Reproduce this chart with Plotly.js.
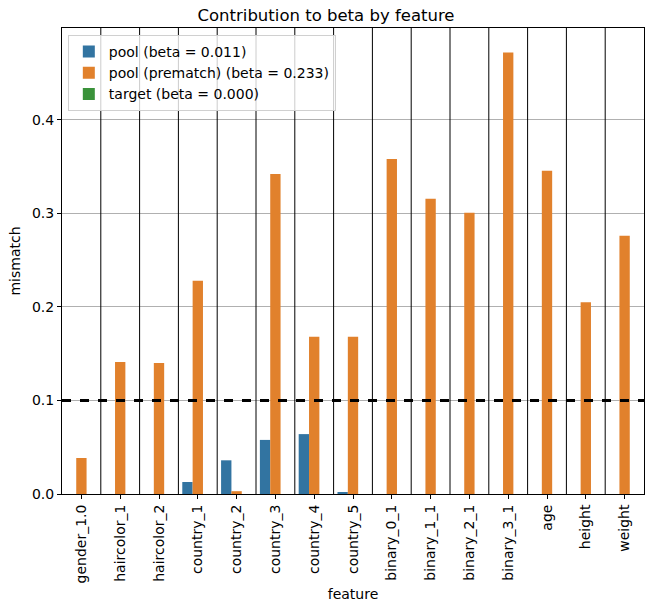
<!DOCTYPE html>
<html><head><meta charset="utf-8">
<script src="https://cdn.plot.ly/plotly-3.0.1.min.js"></script>
<style>body{margin:0}#c{width:652px;height:611px}</style>
</head><body><div id="c"></div>
<script>
const features = ["gender_1.0","haircolor_1","haircolor_2","country_1","country_2","country_3","country_4","country_5","binary_0_1","binary_1_1","binary_2_1","binary_3_1","age","height","weight"];
const poolVals = [0, 0, 0, 0.0128, 0.036, 0.0578, 0.064, 0.002, 0, 0, 0, 0, 0, 0, 0];
const prematchVals = [0.0385, 0.141, 0.140, 0.228, 0.003, 0.342, 0.168, 0.168, 0.358, 0.3155, 0.3005, 0.4717, 0.3455, 0.205, 0.276];
const targetVals = [0,0,0,0,0,0,0,0,0,0,0,0,0,0,0];
const seriesNames = ["pool (beta = 0.011)", "pool (prematch) (beta = 0.233)", "target (beta = 0.000)"];
const threshold = 0.1;
const yTicks = [0, 0.1, 0.2, 0.3, 0.4];

const F = "DejaVu Sans";
const traces = [
  {type:"bar", x:features, y:poolVals, name:seriesNames[0], marker:{color:"#3274a1"}},
  {type:"bar", x:features, y:prematchVals, name:seriesNames[1], marker:{color:"#e1812c"}},
  {type:"bar", x:features, y:targetVals, name:seriesNames[2], marker:{color:"#3a923a"}}
];
const shapes = [];
for (let i = 0; i < features.length - 1; i++) {
  shapes.push({type:"line", xref:"x", yref:"paper", x0:i+0.5, x1:i+0.5, y0:0, y1:1, line:{color:"#000", width:1}, layer:"above"});
}
shapes.push({type:"line", xref:"paper", yref:"y", x0:0, x1:1, y0:threshold, y1:threshold, line:{color:"#000", width:3, dash:"dash"}, layer:"above"});

const layout = {
  width:652, height:611,
  margin:{l:62, r:8, t:28, b:117},
  paper_bgcolor:"#fff", plot_bgcolor:"#fff",
  font:{family:F, size:14, color:"#000"},
  title:{text:"Contribution to beta by feature", font:{family:F, size:16.5, color:"#000"}, x:0.5, xanchor:"center", y:0.985, yanchor:"top"},
  barmode:"group", bargap:0.2, bargroupgap:0,
  showlegend:true,
  legend:{x:0.01, y:0.985, xanchor:"left", yanchor:"top", bgcolor:"rgba(255,255,255,0.8)", bordercolor:"#d0d0d0", borderwidth:1, font:{family:F, size:14}, tracegroupgap:0},
  xaxis:{type:"category", range:[-0.5, features.length-0.5], tickangle:-90, ticks:"outside", ticklen:4, tickcolor:"#000",
    showline:true, linecolor:"#000", linewidth:1, mirror:true, showgrid:false,
    title:{text:"feature", font:{family:F, size:14}, standoff:6}, tickfont:{family:F, size:14}},
  yaxis:{range:[0, 0.498], tickvals:yTicks, ticktext:yTicks.map(v=>v.toFixed(1)), ticks:"outside", ticklen:4, tickcolor:"#000",
    showline:true, linecolor:"#000", linewidth:1, mirror:true, showgrid:true, gridcolor:"#b0b0b0", gridwidth:1, zeroline:false,
    title:{text:"mismatch", font:{family:F, size:14}, standoff:8}, tickfont:{family:F, size:14}},
  shapes:shapes
};
Plotly.newPlot("c", traces, layout, {displayModeBar:false});
</script></body></html>
